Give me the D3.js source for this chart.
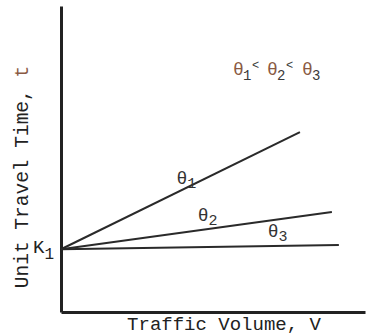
<!DOCTYPE html>
<html>
<head>
<meta charset="utf-8">
<script src="https://cdn.jsdelivr.net/npm/d3@7"></script>
<style>
  body { margin: 0; background: #fff; }
  text { font-family: "Liberation Mono", "DejaVu Sans Mono", monospace; }
</style>
</head>
<body>
<div id="chart"></div>
<script>
// data (arbitrary units)
var intercept = 20.5;              // K1
var lineNames = ["1", "2", "3"];   // theta subscripts
var endVolume = [78.6, 89.1, 91.4];
var endTime = [58.8, 32.7, 21.9];
var labelVolume = [38, 45, 68];    // where each theta label sits along its line

var width = 367, height = 336;

var svg = d3.select("#chart")
    .append("svg")
    .attr("width", width)
    .attr("height", height);

var x = d3.scaleLinear().domain([0, 100]).range([61, 365]);
var y = d3.scaleLinear().domain([0, 100]).range([312, 6]);

// axes, no ticks
svg.append("g")
    .attr("transform", "translate(0," + y(0) + ")")
    .call(d3.axisBottom(x).tickValues([]).tickSizeOuter(0))
    .select(".domain").attr("stroke", "#222").attr("stroke-width", 3);

svg.append("g")
    .attr("transform", "translate(" + x(0) + ",0)")
    .call(d3.axisLeft(y).tickValues([]).tickSizeOuter(0))
    .select(".domain").attr("stroke", "#222").attr("stroke-width", 3);

var lines = lineNames.map(function(n, i) {
    return { name: n, pts: [[0, intercept], [endVolume[i], endTime[i]]], lab: labelVolume[i] };
});

var line = d3.line()
    .x(function(d) { return x(d[0]) })
    .y(function(d) { return y(d[1]) });

svg.selectAll("path.rel")
    .data(lines)
    .enter()
    .append("path")
    .attr("class", "rel")
    .attr("d", function(d) { return line(d.pts) })
    .attr("fill", "none")
    .attr("stroke", "#2a2a2a")
    .attr("stroke-width", 2);

// theta labels sitting just above each line
var labs = svg.selectAll("text.theta")
    .data(lines)
    .enter()
    .append("text")
    .attr("class", "theta")
    .attr("x", function(d) { return x(d.lab) })
    .attr("y", function(d) {
        var p = d.pts[1];
        var t = intercept + (p[1] - intercept) * d.lab / p[0];
        return y(t) - 9;
    })
    .style("font-size", "18px")
    .attr("fill", "#333");
labs.append("tspan").text("θ");
labs.append("tspan").attr("dy", 4).style("font-size", "15px").text(function(d) { return d.name });

// K1
var k = svg.append("text")
    .attr("x", x(0) - 28)
    .attr("y", y(intercept) + 4)
    .style("font-size", "19px")
    .attr("fill", "#222");
k.append("tspan").text("K");
k.append("tspan").attr("dy", 6).style("font-size", "16px").text("1");

// theta ordering note: θ1 < θ2 < θ3
var noteX = [233, 267, 302];
lineNames.forEach(function(n, i) {
    svg.append("text").attr("x", noteX[i]).attr("y", 75)
        .style("font-size", "18px").attr("fill", "#8a5a44").text("θ");
    svg.append("text").attr("x", noteX[i] + 10).attr("y", 80)
        .style("font-size", "14px").attr("fill", "#3a3a3a").text(n);
    if (i < 2) {
        svg.append("text").attr("x", noteX[i] + 19).attr("y", 69)
            .style("font-size", "12px").attr("fill", "#3a3a3a").text("<");
    }
});

// axis titles
svg.append("text")
    .attr("x", 224)
    .attr("y", 330)
    .attr("text-anchor", "middle")
    .style("font-size", "19px")
    .attr("fill", "#222")
    .text("Traffic Volume, V");

var yl = svg.append("text")
    .attr("transform", "translate(28," + 177 + ") rotate(-90)")
    .attr("text-anchor", "middle")
    .style("font-size", "19.5px")
    .attr("fill", "#222");
yl.append("tspan").text("Unit Travel Time, ");
yl.append("tspan").attr("fill", "#8a5a44").text("t");
</script>
</body>
</html>
